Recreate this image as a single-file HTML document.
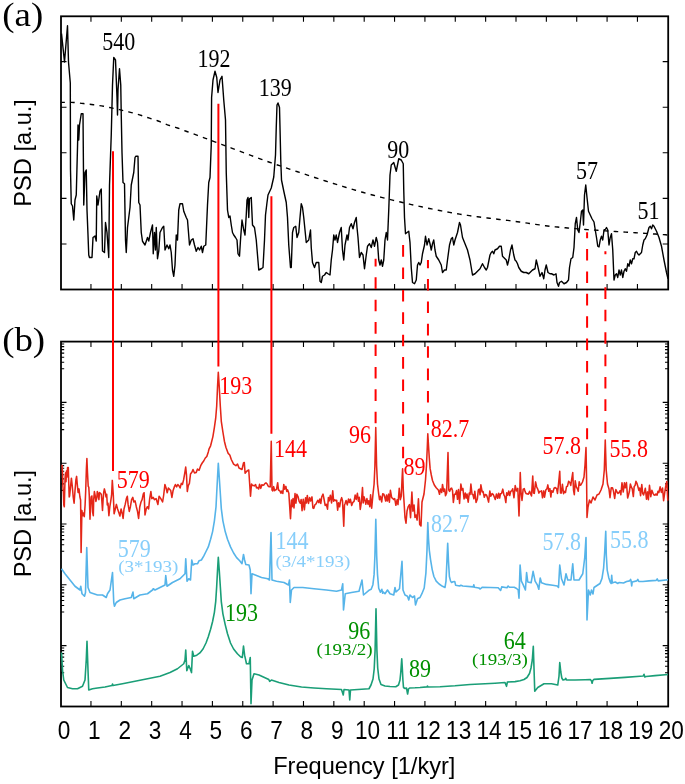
<!DOCTYPE html>
<html><head><meta charset="utf-8"><title>PSD figure</title>
<style>html,body{margin:0;padding:0;background:#fff;} svg{display:block;will-change:transform;}</style>
</head><body>
<svg width="685" height="784" viewBox="0 0 685 784"><rect x="61.0" y="16.3" width="607.2" height="273.2" fill="none" stroke="#000" stroke-width="1.8"/>
<rect x="61.0" y="341.6" width="607.2" height="364.9" fill="none" stroke="#000" stroke-width="1.8"/>
<path d="M90.96 16.3v5.5M90.96 289.5v-5.5M90.96 341.6v5.5M90.96 706.5v-5.5M121.32 16.3v5.5M121.32 289.5v-5.5M121.32 341.6v5.5M121.32 706.5v-5.5M151.68 16.3v5.5M151.68 289.5v-5.5M151.68 341.6v5.5M151.68 706.5v-5.5M182.04 16.3v5.5M182.04 289.5v-5.5M182.04 341.6v5.5M182.04 706.5v-5.5M212.40 16.3v5.5M212.40 289.5v-5.5M212.40 341.6v5.5M212.40 706.5v-5.5M242.76 16.3v5.5M242.76 289.5v-5.5M242.76 341.6v5.5M242.76 706.5v-5.5M273.12 16.3v5.5M273.12 289.5v-5.5M273.12 341.6v5.5M273.12 706.5v-5.5M303.48 16.3v5.5M303.48 289.5v-5.5M303.48 341.6v5.5M303.48 706.5v-5.5M333.84 16.3v5.5M333.84 289.5v-5.5M333.84 341.6v5.5M333.84 706.5v-5.5M364.20 16.3v5.5M364.20 289.5v-5.5M364.20 341.6v5.5M364.20 706.5v-5.5M394.56 16.3v5.5M394.56 289.5v-5.5M394.56 341.6v5.5M394.56 706.5v-5.5M424.92 16.3v5.5M424.92 289.5v-5.5M424.92 341.6v5.5M424.92 706.5v-5.5M455.28 16.3v5.5M455.28 289.5v-5.5M455.28 341.6v5.5M455.28 706.5v-5.5M485.64 16.3v5.5M485.64 289.5v-5.5M485.64 341.6v5.5M485.64 706.5v-5.5M516.00 16.3v5.5M516.00 289.5v-5.5M516.00 341.6v5.5M516.00 706.5v-5.5M546.36 16.3v5.5M546.36 289.5v-5.5M546.36 341.6v5.5M546.36 706.5v-5.5M576.72 16.3v5.5M576.72 289.5v-5.5M576.72 341.6v5.5M576.72 706.5v-5.5M607.08 16.3v5.5M607.08 289.5v-5.5M607.08 341.6v5.5M607.08 706.5v-5.5M637.44 16.3v5.5M637.44 289.5v-5.5M637.44 341.6v5.5M637.44 706.5v-5.5M61.0 61.6h5.5M668.2 61.6h-5.5M61.0 107.2h5.5M668.2 107.2h-5.5M61.0 152.8h5.5M668.2 152.8h-5.5M61.0 198.4h5.5M668.2 198.4h-5.5M61.0 244.0h5.5M668.2 244.0h-5.5M61.0 343.98h3.2M668.2 343.98h-3.2M61.0 346.64h3.2M668.2 346.64h-3.2M61.0 349.65h3.2M668.2 349.65h-3.2M61.0 353.14h3.2M668.2 353.14h-3.2M61.0 357.25h3.2M668.2 357.25h-3.2M61.0 362.29h3.2M668.2 362.29h-3.2M61.0 368.79h3.2M668.2 368.79h-3.2M61.0 402.40h5.5M668.2 402.40h-5.5M61.0 404.78h3.2M668.2 404.78h-3.2M61.0 407.44h3.2M668.2 407.44h-3.2M61.0 410.45h3.2M668.2 410.45h-3.2M61.0 413.94h3.2M668.2 413.94h-3.2M61.0 418.05h3.2M668.2 418.05h-3.2M61.0 423.09h3.2M668.2 423.09h-3.2M61.0 429.59h3.2M668.2 429.59h-3.2M61.0 463.20h5.5M668.2 463.20h-5.5M61.0 465.58h3.2M668.2 465.58h-3.2M61.0 468.24h3.2M668.2 468.24h-3.2M61.0 471.25h3.2M668.2 471.25h-3.2M61.0 474.74h3.2M668.2 474.74h-3.2M61.0 478.85h3.2M668.2 478.85h-3.2M61.0 483.89h3.2M668.2 483.89h-3.2M61.0 490.39h3.2M668.2 490.39h-3.2M61.0 524.00h5.5M668.2 524.00h-5.5M61.0 526.38h3.2M668.2 526.38h-3.2M61.0 529.04h3.2M668.2 529.04h-3.2M61.0 532.05h3.2M668.2 532.05h-3.2M61.0 535.54h3.2M668.2 535.54h-3.2M61.0 539.65h3.2M668.2 539.65h-3.2M61.0 544.69h3.2M668.2 544.69h-3.2M61.0 551.19h3.2M668.2 551.19h-3.2M61.0 584.80h5.5M668.2 584.80h-5.5M61.0 587.18h3.2M668.2 587.18h-3.2M61.0 589.84h3.2M668.2 589.84h-3.2M61.0 592.85h3.2M668.2 592.85h-3.2M61.0 596.34h3.2M668.2 596.34h-3.2M61.0 600.45h3.2M668.2 600.45h-3.2M61.0 605.49h3.2M668.2 605.49h-3.2M61.0 611.99h3.2M668.2 611.99h-3.2M61.0 645.60h5.5M668.2 645.60h-5.5M61.0 647.98h3.2M668.2 647.98h-3.2M61.0 650.64h3.2M668.2 650.64h-3.2M61.0 653.65h3.2M668.2 653.65h-3.2M61.0 657.14h3.2M668.2 657.14h-3.2M61.0 661.25h3.2M668.2 661.25h-3.2M61.0 666.29h3.2M668.2 666.29h-3.2M61.0 672.79h3.2M668.2 672.79h-3.2" stroke="#000" stroke-width="1.1" fill="none"/>
<path d="M61.50 33.60L64.50 62.00L67.50 25.70L68.50 62.00L70.30 83.00L70.50 170.00L71.25 203.75L72.50 206.00L73.75 220.00L75.00 200.00L76.25 195.00L77.50 147.50L78.00 125.00L78.75 140.00L79.50 125.00L81.25 113.75L83.00 113.75L83.75 205.00L85.00 172.50L86.25 170.00L87.00 210.00L88.00 235.00L88.75 255.00L89.50 257.50L92.00 257.50L93.00 237.50L95.00 236.00L96.25 241.00L96.75 196.00L98.00 205.00L100.00 191.00L101.25 189.00L102.50 251.00L104.50 252.50L105.50 222.50L107.00 232.50L108.75 257.50L109.50 185.00L111.25 135.00L112.50 85.00L113.75 57.50L115.50 60.00L117.00 97.50L117.50 115.00L118.00 90.00L119.50 68.75L120.75 85.00L121.25 115.00L122.00 152.50L123.00 182.50L124.50 183.75L125.50 240.00L126.25 252.50L127.50 227.50L130.00 207.50L131.25 185.00L133.75 172.50L135.00 157.50L135.75 156.25L138.00 156.25L138.75 202.50L140.00 205.00L141.25 232.50L142.50 241.25L145.00 245.00L147.50 237.50L148.75 241.00L150.50 232.50L152.50 225.00L153.25 253.75L154.50 232.50L155.50 250.00L156.25 227.50L157.50 258.75L158.75 251.25L160.00 232.50L162.50 227.50L163.75 226.25L165.00 250.00L167.00 245.00L168.75 248.75L170.00 245.00L171.25 252.50L172.50 270.00L173.75 276.25L175.00 265.00L176.25 235.00L177.50 240.00L178.75 210.00L180.00 203.75L182.50 203.75L183.75 211.25L186.25 217.50L187.50 220.00L189.50 245.00L191.25 240.00L193.00 238.75L194.50 245.00L196.25 251.25L198.00 247.50L199.50 250.00L201.25 246.25L202.50 252.50L203.75 246.25L205.75 245.00L207.50 205.00L208.75 182.50L210.00 177.50L211.25 145.00L211.60 97.50L213.00 80.00L215.00 71.25L216.75 77.50L218.00 92.50L220.00 80.00L222.00 76.25L223.75 100.00L225.50 120.00L226.25 172.50L227.50 210.00L228.75 217.50L230.00 216.00L231.25 225.00L232.50 232.50L233.75 235.00L235.50 237.50L237.00 240.00L238.00 253.75L239.50 256.25L240.50 240.00L242.00 220.00L243.75 230.00L245.00 235.00L246.25 215.00L247.00 200.00L248.00 197.50L248.75 217.50L249.50 198.75L251.25 197.50L252.50 225.00L254.50 227.50L256.25 240.00L257.50 255.00L258.75 270.00L261.25 268.75L263.00 267.50L264.50 240.00L265.50 215.00L267.00 202.50L268.00 195.00L271.25 188.00L273.75 177.00L275.50 155.00L276.25 127.50L277.00 105.00L278.00 103.00L279.50 107.50L280.00 127.50L280.75 160.00L281.50 180.00L283.75 191.00L286.25 202.50L287.50 217.50L288.75 245.00L290.50 267.50L291.25 267.50L292.50 232.50L293.75 227.50L295.75 226.25L297.00 237.50L298.75 232.50L300.00 217.50L301.25 203.75L302.50 207.50L303.75 217.50L305.00 230.00L306.25 242.50L308.75 240.00L310.50 230.00L311.25 247.50L312.50 262.50L314.50 267.50L316.25 262.50L318.75 262.50L320.00 281.25L321.25 282.50L322.50 276.25L324.50 275.00L326.25 272.50L328.00 273.75L330.00 275.00L331.25 260.00L332.50 250.00L333.75 235.00L335.00 240.00L336.25 235.00L337.50 242.50L339.50 232.50L341.25 227.50L342.50 250.00L343.75 260.00L345.00 245.00L347.00 235.00L348.00 240.00L349.50 227.50L351.25 223.75L353.00 228.75L354.50 222.50L356.25 217.50L357.00 227.50L358.00 237.50L359.50 257.50L361.25 252.50L363.00 255.00L364.50 268.75L366.25 255.00L367.50 246.25L369.50 243.75L371.25 247.50L373.00 240.00L374.50 246.25L376.25 237.50L377.50 242.50L378.75 260.00L380.00 265.00L381.25 260.00L382.50 266.25L383.75 260.00L385.00 240.00L386.25 232.50L387.50 240.00L388.75 210.00L390.00 175.00L391.25 165.00L393.75 162.50L396.25 171.25L398.75 158.75L401.25 160.00L403.25 163.75L403.75 190.00L404.50 217.50L405.50 233.75L407.00 232.50L408.75 231.25L410.00 242.50L411.25 267.50L412.50 282.50L414.50 283.75L416.25 280.00L417.50 265.00L418.75 262.50L420.00 265.00L421.25 262.50L422.50 253.75L424.50 245.00L425.50 236.25L427.00 245.00L428.75 238.75L430.00 243.75L431.25 250.00L432.50 243.75L433.75 240.00L435.00 250.00L436.25 256.25L438.75 260.00L441.25 265.00L442.50 272.50L444.50 270.00L446.25 270.00L447.50 260.00L449.50 245.00L451.25 238.75L452.50 237.50L453.75 245.00L455.00 240.00L457.50 232.50L459.50 222.50L460.50 225.00L462.50 237.50L465.00 243.75L467.50 250.00L470.00 260.00L472.50 275.00L475.00 273.75L477.50 271.25L480.00 268.75L482.50 263.75L484.50 267.50L486.25 270.00L487.50 267.50L490.00 255.00L491.25 252.50L492.50 251.25L493.75 253.75L495.00 250.00L497.50 248.75L499.50 246.25L501.25 246.25L502.50 256.25L503.75 257.50L505.00 258.75L506.25 260.00L507.50 265.00L508.75 260.00L510.50 250.00L512.00 245.00L513.75 255.00L515.00 260.00L516.25 261.25L517.50 263.75L518.75 267.50L521.25 271.25L523.75 272.50L526.25 272.50L528.75 273.75L530.00 272.50L532.50 270.00L535.00 268.75L536.25 260.00L537.50 265.00L540.00 276.25L542.00 272.50L543.75 278.75L545.00 270.00L546.25 265.00L548.00 272.50L550.00 273.75L551.50 273.75L554.00 275.00L556.00 273.75L557.00 282.50L558.50 286.25L559.50 282.50L561.50 281.25L564.00 283.75L566.50 282.50L568.50 280.00L569.50 267.50L571.00 258.75L572.75 257.50L574.00 247.50L575.25 223.75L576.50 217.50L577.75 230.00L579.00 232.50L580.25 222.50L581.50 211.25L582.75 210.00L583.50 225.00L584.50 195.00L585.75 185.00L587.00 197.50L588.50 211.25L590.25 215.00L592.00 218.75L594.00 222.00L595.25 230.00L596.50 237.50L597.75 246.25L599.00 247.00L600.25 240.00L601.50 236.25L602.75 240.00L604.00 230.00L605.25 229.50L606.50 227.50L607.75 230.00L609.00 245.00L610.25 237.50L611.50 233.75L612.75 250.00L614.00 280.00L615.25 275.00L616.50 273.75L617.75 277.50L619.00 270.00L620.25 275.00L621.50 270.00L622.75 277.50L624.00 271.25L625.25 268.75L626.50 271.25L627.75 263.75L629.00 266.25L630.25 260.00L631.50 263.75L632.75 258.75L634.00 258.75L635.25 252.50L636.50 251.25L637.75 253.75L639.00 255.00L641.50 252.50L642.75 245.00L644.00 240.00L645.25 238.75L647.00 235.00L649.00 227.50L650.25 226.25L651.50 228.75L652.75 225.00L654.00 226.25L656.50 231.25L659.00 237.50L661.50 246.25L664.00 260.00L666.50 272.50L668.00 278.75" stroke="#000" stroke-width="1.4" fill="none" stroke-linejoin="round"/>
<path d="M61.50 102.40L63.50 102.40L65.50 102.40L67.50 102.40L69.50 102.40L71.50 102.40L73.50 102.45L75.50 102.62L77.50 102.85L79.50 103.11L81.50 103.36L83.50 103.57L85.50 103.80L87.50 104.03L89.50 104.28L91.50 104.52L93.50 104.78L95.50 105.03L97.50 105.29L99.50 105.57L101.50 105.87L103.50 106.21L105.50 106.60L107.50 107.02L109.50 107.45L111.50 107.89L113.50 108.32L115.50 108.77L117.50 109.22L119.50 109.68L121.50 110.15L123.50 110.62L125.50 111.10L127.50 111.58L129.50 112.08L131.50 112.60L133.50 113.14L135.50 113.69L137.50 114.26L139.50 114.86L141.50 115.47L143.50 116.13L145.50 116.80L147.50 117.49L149.50 118.17L151.50 118.83L153.50 119.47L155.50 120.10L157.50 120.76L159.50 121.47L161.50 122.28L163.50 123.14L165.50 124.01L167.50 124.82L169.50 125.51L171.50 126.14L173.50 126.74L175.50 127.35L177.50 128.00L179.50 128.72L181.50 129.47L183.50 130.25L185.50 131.01L187.50 131.76L189.50 132.48L191.50 133.19L193.50 133.90L195.50 134.62L197.50 135.35L199.50 136.09L201.50 136.83L203.50 137.57L205.50 138.32L207.50 139.07L209.50 139.81L211.50 140.56L213.50 141.31L215.50 142.06L217.50 142.81L219.50 143.57L221.50 144.32L223.50 145.07L225.50 145.81L227.50 146.56L229.50 147.31L231.50 148.06L233.50 148.81L235.50 149.57L237.50 150.33L239.50 151.08L241.50 151.84L243.50 152.60L245.50 153.36L247.50 154.11L249.50 154.87L251.50 155.62L253.50 156.37L255.50 157.12L257.50 157.86L259.50 158.60L261.50 159.33L263.50 160.06L265.50 160.79L267.50 161.51L269.50 162.22L271.50 162.93L273.50 163.63L275.50 164.32L277.50 165.00L279.50 165.68L281.50 166.36L283.50 167.03L285.50 167.71L287.50 168.39L289.50 169.07L291.50 169.74L293.50 170.42L295.50 171.09L297.50 171.76L299.50 172.43L301.50 173.10L303.50 173.77L305.50 174.44L307.50 175.10L309.50 175.77L311.50 176.43L313.50 177.09L315.50 177.74L317.50 178.40L319.50 179.05L321.50 179.70L323.50 180.35L325.50 180.99L327.50 181.63L329.50 182.27L331.50 182.90L333.50 183.54L335.50 184.16L337.50 184.79L339.50 185.41L341.50 186.02L343.50 186.64L345.50 187.25L347.50 187.85L349.50 188.45L351.50 189.05L353.50 189.64L355.50 190.22L357.50 190.81L359.50 191.38L361.50 191.96L363.50 192.52L365.50 193.08L367.50 193.64L369.50 194.19L371.50 194.74L373.50 195.27L375.50 195.81L377.50 196.33L379.50 196.86L381.50 197.37L383.50 197.88L385.50 198.38L387.50 198.88L389.50 199.37L391.50 199.85L393.50 200.34L395.50 200.82L397.50 201.30L399.50 201.78L401.50 202.25L403.50 202.72L405.50 203.19L407.50 203.65L409.50 204.11L411.50 204.57L413.50 205.02L415.50 205.47L417.50 205.92L419.50 206.36L421.50 206.79L423.50 207.23L425.50 207.65L427.50 208.08L429.50 208.49L431.50 208.91L433.50 209.32L435.50 209.72L437.50 210.12L439.50 210.51L441.50 210.90L443.50 211.28L445.50 211.66L447.50 212.03L449.50 212.39L451.50 212.75L453.50 213.10L455.50 213.45L457.50 213.79L459.50 214.12L461.50 214.45L463.50 214.77L465.50 215.08L467.50 215.38L469.50 215.67L471.50 215.96L473.50 216.24L475.50 216.51L477.50 216.77L479.50 217.03L481.50 217.29L483.50 217.53L485.50 217.78L487.50 218.02L489.50 218.26L491.50 218.50L493.50 218.73L495.50 218.97L497.50 219.21L499.50 219.44L501.50 219.68L503.50 219.92L505.50 220.17L507.50 220.41L509.50 220.67L511.50 220.92L513.50 221.18L515.50 221.45L517.50 221.73L519.50 222.01L521.50 222.30L523.50 222.59L525.50 222.89L527.50 223.18L529.50 223.48L531.50 223.78L533.50 224.07L535.50 224.36L537.50 224.65L539.50 224.92L541.50 225.20L543.50 225.46L545.50 225.72L547.50 225.96L549.50 226.19L551.50 226.42L553.50 226.63L555.50 226.84L557.50 227.04L559.50 227.24L561.50 227.43L563.50 227.62L565.50 227.81L567.50 227.99L569.50 228.16L571.50 228.33L573.50 228.50L575.50 228.67L577.50 228.83L579.50 228.99L581.50 229.15L583.50 229.30L585.50 229.45L587.50 229.60L589.50 229.75L591.50 229.89L593.50 230.03L595.50 230.17L597.50 230.31L599.50 230.45L601.50 230.58L603.50 230.71L605.50 230.84L607.50 230.97L609.50 231.10L611.50 231.23L613.50 231.36L615.50 231.49L617.50 231.61L619.50 231.74L621.50 231.86L623.50 231.99L625.50 232.12L627.50 232.24L629.50 232.37L631.50 232.49L633.50 232.62L635.50 232.74L637.50 232.87L639.50 233.00L641.50 233.13L643.50 233.26L645.50 233.39L647.50 233.52L649.50 233.66L651.50 233.79L653.50 233.93L655.50 234.07L657.50 234.21L659.50 234.35L661.50 234.50L663.50 234.65L665.50 234.80L667.50 234.96" stroke="#000" stroke-width="1.4" fill="none" stroke-dasharray="4.6 5.25" stroke-dashoffset="1.25"/>
<path d="M62.00 464.80L62.50 472.90L62.90 486.30L63.40 492.50L63.80 505.00L64.30 506.80L64.70 490.70L65.10 477.30L65.60 472.90L66.00 481.80L66.50 471.10L66.90 477.30L67.60 467.50L68.30 467.50L68.70 481.80L69.20 497.00L69.60 496.00L70.50 487.10L71.40 478.20L72.30 486.30L73.20 497.00L74.10 503.20L75.00 490.70L75.90 480.00L76.60 476.40L77.20 483.60L78.10 492.50L79.00 488.90L79.90 497.00L80.60 500.00L81.10 552.40L81.90 510.40L82.60 515.70L83.40 513.00L84.30 516.60L85.10 505.00L85.70 490.70L86.40 468.40L86.90 458.60L87.50 472.90L88.20 486.30L88.80 487.10L89.30 496.00L90.00 519.30L90.60 505.00L91.20 497.00L91.90 496.00L92.60 512.10L93.30 515.70L93.70 499.60L94.40 491.60L95.10 495.20L95.90 501.40L96.80 497.90L97.30 491.60L98.20 494.30L98.90 499.60L99.50 492.50L100.40 493.40L101.30 494.30L101.90 501.40L102.50 510.40L103.10 499.60L103.70 492.50L104.40 488.90L105.30 492.50L106.00 497.00L106.70 494.30L107.30 505.00L108.00 503.20L108.90 515.70L109.80 506.80L110.70 501.40L111.60 495.20L112.30 480.40L113.30 495.00L114.10 513.70L115.30 509.00L116.40 504.40L117.60 509.00L118.80 512.60L119.90 516.00L121.10 509.00L122.30 513.70L123.10 518.40L124.00 509.00L125.20 504.40L126.40 498.60L127.30 496.20L128.10 504.40L129.30 511.40L130.40 506.70L131.60 499.70L132.80 497.40L133.90 502.00L135.10 500.90L136.30 506.70L137.50 511.40L138.60 518.40L139.80 506.70L141.00 502.00L142.10 499.70L143.30 493.90L144.10 492.70L145.00 514.90L146.20 509.00L147.40 506.70L148.60 509.00L149.70 498.60L150.90 491.50L151.80 498.60L153.20 497.40L154.40 499.70L156.10 498.60L157.90 504.40L159.10 496.20L160.80 498.60L162.60 502.00L163.70 495.00L164.90 484.50L166.10 488.00L167.20 492.70L168.40 488.00L169.60 489.20L170.70 490.40L171.90 497.40L173.10 490.40L174.30 486.90L175.40 484.50L176.60 486.90L177.80 484.50L178.90 485.70L180.10 488.00L181.30 483.40L182.40 484.50L183.60 479.90L184.80 472.90L185.70 467.00L186.50 475.20L187.30 491.50L188.30 485.70L189.40 483.40L190.50 474.00L192.00 472.00L193.00 469.50L194.50 473.00L196.10 472.60L197.50 469.00L199.10 470.30L200.70 465.70L202.20 463.00L203.70 461.00L205.30 458.00L206.80 456.50L208.30 451.90L209.10 448.80L210.60 445.80L212.90 436.60L214.40 427.40L215.70 418.20L216.70 406.00L217.50 387.60L218.30 372.30L219.30 387.60L220.30 406.00L221.30 421.30L222.90 432.00L224.40 441.20L225.90 447.30L228.20 453.40L229.80 455.00L231.30 459.50L233.60 464.10L235.90 465.70L237.50 464.00L239.00 468.00L240.50 468.70L242.00 469.50L243.50 463.00L244.30 462.50L245.10 473.30L247.00 471.00L248.75 470.00L250.50 496.25L251.50 484.00L252.50 485.36L253.55 485.50L254.35 485.87L255.63 484.62L256.48 487.86L257.60 487.49L258.65 488.99L259.58 484.24L260.79 488.37L261.84 484.72L262.92 485.41L263.81 484.97L264.85 483.63L265.95 482.89L267.16 484.00L268.02 485.93L268.95 486.73L270.21 486.85L271.25 441.25L272.00 490.00L272.80 490.95L273.69 486.65L274.60 490.66L275.49 489.91L276.52 489.46L277.68 482.66L278.47 490.01L279.78 490.74L280.93 493.28L281.74 490.95L282.83 493.47L283.79 484.44L284.67 489.18L285.89 486.40L286.75 491.49L287.57 489.89L288.83 493.26L290.50 518.75L291.50 500.00L292.20 506.75L293.04 498.51L293.98 507.94L295.02 493.57L295.93 503.22L296.85 494.31L298.13 496.83L299.15 501.40L300.33 503.24L301.15 499.47L302.06 510.65L303.24 499.17L304.38 509.84L305.57 497.82L306.44 503.02L307.30 495.46L308.50 503.47L309.69 497.62L310.67 501.06L311.98 496.88L312.89 507.99L313.71 508.40L314.83 504.89L315.88 504.19L316.99 501.97L317.80 500.27L318.88 502.76L319.84 498.93L320.81 503.44L321.76 496.72L323.03 494.09L323.86 498.25L325.15 505.37L326.31 504.25L327.52 509.18L328.38 497.57L329.20 500.87L330.36 495.24L331.55 502.96L332.75 490.87L333.61 501.18L334.66 499.77L335.77 500.64L336.68 500.27L337.65 510.16L338.59 502.79L339.60 506.75L340.74 500.17L341.66 497.65L342.50 500.67L343.75 526.25L344.50 505.00L345.20 503.29L346.07 500.56L347.27 504.90L348.53 499.02L349.47 502.47L350.44 499.32L351.69 505.51L352.87 502.34L354.06 501.34L355.15 495.12L356.23 499.42L357.39 493.31L358.43 501.22L359.28 497.30L360.26 509.51L361.37 502.05L362.50 487.50L363.20 503.00L364.00 496.79L364.86 499.62L365.86 504.22L366.91 498.57L367.97 504.13L368.76 500.71L369.79 506.66L370.60 494.76L371.67 508.13L372.68 497.45L373.00 494.00L374.10 484.00L374.90 466.00L375.75 427.50L376.60 466.00L377.50 484.00L378.70 494.00L379.50 499.68L380.44 496.26L381.68 501.92L382.70 493.79L383.87 494.16L384.70 496.99L385.68 501.08L386.50 494.99L387.41 500.97L388.58 494.15L389.39 502.23L390.41 490.34L391.66 497.64L392.66 498.35L393.64 499.51L394.73 498.69L395.87 505.29L397.14 499.76L397.99 504.57L399.23 488.26L400.33 499.62L401.31 496.09L402.00 480.00L402.60 468.75L403.30 490.00L405.00 517.50L406.00 523.19L407.00 511.30L408.10 506.84L409.46 504.57L410.56 517.66L411.90 491.97L412.90 511.10L414.06 504.94L414.95 517.54L415.99 514.98L417.10 520.08L418.43 498.81L419.69 524.44L421.00 526.00L422.00 502.00L424.00 494.00L425.50 480.00L426.50 465.00L427.30 447.00L427.80 433.75L428.60 447.00L429.30 458.00L430.10 468.40L431.30 475.00L432.50 480.50L434.30 485.00L436.20 487.80L438.50 490.20L439.50 494.31L440.50 488.97L441.70 492.43L442.51 484.44L443.67 491.47L444.65 488.94L445.52 495.83L446.62 492.94L448.00 452.50L448.80 490.00L449.60 491.33L450.80 488.54L451.60 488.14L452.51 490.46L453.36 502.45L454.45 494.32L455.43 494.27L456.52 490.61L457.51 499.33L458.50 489.50L459.58 503.52L460.87 484.14L462.00 490.10L462.90 488.54L464.08 498.89L465.30 493.02L466.15 498.10L467.04 494.11L468.19 502.17L469.25 493.09L470.07 494.50L470.89 484.00L472.03 494.26L472.97 494.74L473.91 498.76L474.82 491.23L476.04 502.41L477.34 499.05L478.28 490.05L479.23 489.17L480.07 494.79L480.88 484.77L482.14 491.96L483.07 491.52L484.32 497.32L485.31 494.56L486.51 494.94L487.39 497.61L488.58 502.09L489.83 490.95L490.84 496.28L492.10 493.56L493.19 494.34L494.18 496.77L495.27 499.54L496.43 493.94L497.66 498.23L498.64 493.16L499.64 497.98L500.47 493.80L501.53 493.49L502.78 489.15L503.89 494.89L504.76 496.29L505.84 502.57L506.72 492.76L507.68 495.18L508.79 491.04L509.74 495.51L510.73 491.35L511.76 490.75L512.68 488.70L513.97 497.77L515.21 485.57L516.51 490.97L517.80 488.33L519.00 516.00L519.70 495.00L520.25 472.50L521.00 492.00L522.00 500.38L523.17 489.12L524.29 488.61L525.09 491.58L526.12 493.65L527.05 493.66L528.35 494.15L529.65 491.31L530.52 493.80L531.50 495.99L532.75 476.00L533.50 493.00L534.30 493.36L535.58 481.90L536.69 486.99L537.87 489.39L538.86 493.09L539.70 491.40L540.60 491.57L541.56 490.79L542.52 497.84L543.75 490.89L544.54 497.17L545.78 490.00L546.95 488.67L547.85 484.89L548.77 491.28L549.91 488.59L550.83 497.03L551.64 490.66L552.94 492.18L554.04 488.25L555.30 487.52L556.60 488.51L557.47 493.42L558.57 483.55L559.75 471.25L560.50 493.00L561.30 493.07L562.42 484.26L563.56 493.71L564.62 491.42L565.48 492.55L566.50 486.66L567.45 486.25L568.61 481.37L569.91 482.48L570.75 485.40L572.75 472.50L573.50 490.00L574.30 494.72L575.25 480.88L576.27 486.83L577.31 488.60L578.24 491.16L579.18 481.79L580.15 485.27L581.02 484.75L582.50 482.00L584.00 477.00L585.00 465.00L586.00 447.50L586.60 480.00L587.00 517.50L588.00 507.00L589.50 500.00L591.00 503.00L593.00 497.00L595.00 500.00L597.00 495.00L599.00 494.00L601.00 490.00L603.00 484.00L604.30 470.00L605.25 440.00L606.20 470.00L607.50 484.00L609.00 489.00L610.00 497.69L611.23 487.86L612.48 487.83L613.37 490.64L614.67 498.40L615.86 489.48L617.16 492.26L618.02 493.42L619.02 492.70L620.07 490.70L620.87 494.78L621.97 482.72L623.25 492.02L624.42 482.78L625.25 487.75L626.44 482.55L627.64 498.03L628.43 495.24L629.45 491.32L630.38 483.96L631.35 487.24L632.22 488.70L633.33 496.57L634.18 486.55L635.06 485.59L635.94 481.32L636.83 483.08L637.87 486.53L638.85 490.34L639.69 487.94L640.57 495.63L641.81 484.46L642.71 493.35L643.53 494.95L644.51 491.88L645.34 488.26L646.49 499.26L647.54 491.90L648.39 499.68L649.48 485.23L650.78 496.71L651.87 490.32L653.03 493.30L654.13 494.99L655.11 495.18L655.90 493.97L657.06 495.18L658.00 491.29L658.88 492.53L660.11 486.79L661.39 492.39L662.54 488.11L663.61 500.68L664.68 492.88L665.65 486.69L666.81 481.52L667.82 500.61" stroke="#e42618" stroke-width="1.55" fill="none" stroke-linejoin="round"/>
<path d="M61.50 568.75L65.00 573.75L70.00 580.00L75.00 586.25L80.00 590.00L80.75 586.25L82.00 593.75L84.50 596.25L85.50 592.50L86.75 547.50L88.00 587.50L90.00 592.50L93.75 593.75L97.50 595.00L102.50 595.00L106.25 597.50L107.50 593.75L110.00 590.00L112.50 572.50L113.75 602.50L114.50 606.25L116.25 602.50L120.00 600.00L125.00 598.75L131.25 597.50L133.00 592.00L133.75 598.75L140.00 595.00L147.50 593.75L152.50 590.00L153.25 588.75L155.00 590.00L160.00 587.50L165.00 585.00L165.75 575.50L167.00 586.25L172.50 582.50L180.00 578.75L185.00 573.75L185.75 558.75L187.00 581.25L188.75 578.75L190.50 580.00L191.75 560.00L193.00 565.00L195.00 563.75L197.60 563.70L199.10 560.70L201.40 560.00L203.70 556.10L206.00 551.50L208.30 546.90L210.60 539.20L212.60 531.60L214.40 520.80L216.00 507.00L216.70 493.30L217.50 478.00L218.30 463.40L219.30 478.00L220.30 493.30L221.30 508.60L222.90 520.80L225.20 531.60L227.50 539.20L230.50 546.90L233.60 553.00L236.60 557.60L239.70 560.70L242.00 563.70L243.50 554.50L244.60 560.00L245.80 564.50L249.00 565.00L250.25 570.00L251.00 593.75L252.00 573.75L255.25 575.00L261.50 577.50L267.75 578.75L269.50 580.00L271.00 532.50L272.00 580.00L276.50 581.25L284.00 582.50L288.50 585.00L289.50 580.00L290.25 602.50L291.50 590.00L294.00 587.50L302.75 587.50L314.00 588.75L326.50 590.00L336.50 591.25L341.50 590.00L342.75 583.75L343.50 610.00L345.25 593.75L351.50 592.50L359.00 591.25L362.00 580.00L363.50 595.00L369.50 589.90L371.20 589.30L372.90 584.70L374.10 574.40L374.90 556.00L375.80 519.20L376.70 556.00L377.50 574.40L378.70 588.20L380.40 592.20L381.80 589.30L382.70 593.30L382.50 591.25L385.00 593.75L387.50 590.00L390.00 593.75L393.75 595.00L395.00 587.50L396.00 592.00L399.50 588.75L402.00 561.25L403.00 590.00L405.00 595.00L407.50 596.25L408.75 600.00L410.00 595.00L412.50 597.50L414.50 596.00L415.50 605.00L417.50 598.75L418.40 598.30L420.00 597.50L421.90 593.70L424.20 588.00L425.90 573.10L427.00 550.10L427.80 522.60L428.50 538.70L429.30 550.10L430.50 559.30L432.20 569.60L433.90 576.50L436.20 581.10L439.10 584.00L442.50 586.30L445.00 587.40L446.00 581.10L446.90 561.60L447.70 543.30L448.50 561.60L449.40 576.50L450.60 581.10L451.60 582.50L453.00 581.80L454.80 581.60L455.60 585.20L459.60 586.00L460.90 585.20L462.80 586.00L473.30 586.90L473.80 584.80L474.40 587.30L478.90 588.00L480.20 589.00L482.10 587.30L498.20 587.70L500.60 590.50L501.70 586.90L507.00 587.70L508.10 586.00L509.40 587.30L514.20 587.30L516.60 588.50L518.20 590.00L519.00 598.10L520.10 565.00L521.40 581.20L523.00 584.40L525.40 590.00L526.60 572.50L527.80 582.00L531.10 582.80L533.10 571.40L535.10 581.20L537.50 585.20L538.80 589.30L540.20 578.00L541.50 582.80L546.30 584.40L552.70 585.20L557.20 586.00L558.50 587.50L559.75 565.00L561.50 578.75L564.00 585.00L566.00 573.75L567.75 580.00L571.00 580.00L572.75 563.75L574.00 580.00L579.00 580.00L582.75 573.75L584.75 557.50L586.00 537.50L587.00 620.00L588.50 590.00L590.25 595.00L591.50 590.00L593.00 594.00L594.00 587.50L600.00 583.50L602.00 578.40L603.60 568.20L604.70 552.00L605.75 531.25L606.30 555.00L607.20 570.20L608.70 577.40L610.20 582.00L611.20 583.50L611.70 575.30L612.30 583.00L613.30 582.50L615.30 582.00L617.90 583.50L619.00 582.50L623.50 583.00L626.60 581.50L629.60 580.90L630.60 579.40L631.10 581.00L631.70 586.00L632.20 582.00L636.80 580.90L637.80 579.40L638.80 581.50L642.90 581.50L649.00 580.90L656.20 580.40L657.20 578.90L658.20 580.90L668.00 579.80" stroke="#56b4e9" stroke-width="1.6" fill="none" stroke-linejoin="round"/>
<path d="M61.50 652.50L62.50 670.00L63.75 680.00L67.50 687.50L72.50 688.75L77.50 688.75L82.50 686.25L85.00 680.00L86.25 660.00L87.00 641.25L88.00 670.00L88.75 690.00L92.50 688.75L97.50 688.00L105.00 687.00L112.00 685.50L112.50 684.00L113.00 685.50L122.50 683.75L135.00 681.25L147.50 678.75L160.00 676.25L170.00 672.50L177.50 668.75L183.75 663.75L185.00 660.00L185.75 650.00L186.80 670.60L188.80 665.50L190.30 669.00L191.50 672.60L192.50 651.25L193.75 656.25L196.80 655.20L199.90 652.90L203.00 649.00L206.00 643.00L208.30 636.80L210.60 629.20L212.60 621.50L214.40 612.30L215.70 601.60L216.70 586.30L217.50 571.00L218.30 557.20L219.30 571.00L220.30 586.30L221.30 601.60L222.90 613.80L225.20 624.60L227.50 633.80L230.50 643.00L233.60 649.00L237.40 653.70L240.50 656.70L242.30 657.50L243.50 646.00L244.60 655.20L246.50 663.75L249.00 663.75L250.25 657.50L251.00 703.75L252.00 680.00L254.00 673.75L259.00 675.00L268.80 679.50L269.70 681.40L271.40 680.10L279.00 682.50L289.00 685.00L301.50 687.00L314.00 688.00L326.50 688.75L341.50 689.50L343.25 695.00L344.00 689.50L349.00 690.00L349.75 700.00L350.50 690.00L369.00 688.75L371.00 685.00L373.00 679.00L374.20 669.00L375.10 650.00L376.00 608.75L376.90 650.00L377.70 668.00L379.00 679.00L381.00 684.50L385.00 686.00L390.00 686.50L395.80 686.70L398.50 685.00L400.00 680.00L400.80 672.00L401.30 665.00L401.75 658.75L402.30 668.00L402.90 680.00L403.50 687.50L405.00 688.50L406.50 688.00L407.60 694.00L408.50 689.00L409.60 688.00L415.00 687.80L420.00 687.50L427.00 686.90L427.40 686.00L428.00 687.00L440.00 686.70L455.00 685.80L470.00 684.50L495.00 683.20L505.00 682.50L506.50 686.30L507.40 682.00L515.00 681.60L520.00 680.80L524.00 679.50L527.00 677.50L529.50 673.50L531.00 668.00L532.30 660.00L533.30 646.25L534.75 691.25L537.75 687.50L544.00 683.75L551.50 683.75L557.75 685.00L559.00 676.25L559.75 662.50L560.80 672.00L561.80 678.00L563.00 680.00L565.00 679.50L565.80 678.30L566.50 680.00L575.00 680.00L585.00 679.80L590.50 679.60L591.50 681.00L592.10 683.30L592.80 680.50L594.00 679.40L610.00 678.40L625.00 677.40L640.00 676.30L643.20 676.00L644.00 674.30L644.80 677.00L646.00 676.50L655.00 675.60L668.00 674.50" stroke="#1a9e77" stroke-width="1.6" fill="none" stroke-linejoin="round"/>
<path d="M113 151.3V471M218.4 103.7V366.5M271.4 196.3V433.8" stroke="#ff0000" stroke-width="2" fill="none"/>
<path d="M375.6 258.7V423.3" stroke="#ff0000" stroke-width="2" fill="none" stroke-dasharray="11.6 10.8" stroke-dashoffset="3.8"/>
<path d="M403.1 245.1V458.3" stroke="#ff0000" stroke-width="2" fill="none" stroke-dasharray="11.6 10.8" stroke-dashoffset="0"/>
<path d="M427.95 260.1V425" stroke="#ff0000" stroke-width="2" fill="none" stroke-dasharray="11.6 10.8" stroke-dashoffset="3.5"/>
<path d="M587.1 232.2V439.3" stroke="#ff0000" stroke-width="2" fill="none" stroke-dasharray="11.6 10.8" stroke-dashoffset="5.6"/>
<path d="M605.4 251.3V433" stroke="#ff0000" stroke-width="2" fill="none" stroke-dasharray="11.6 10.8" stroke-dashoffset="8.75"/>
<text transform="matrix(1.0 0 0 1.13 102.35 50.3)" font-size="22" font-family='"Liberation Serif", serif' fill="#000">540</text>
<text transform="matrix(1.0 0 0 1.13 197.45 66.85)" font-size="22" font-family='"Liberation Serif", serif' fill="#000">192</text>
<text transform="matrix(1.0 0 0 1.13 258.65 95.5)" font-size="22" font-family='"Liberation Serif", serif' fill="#000">139</text>
<text transform="matrix(1.0 0 0 1.13 387.25 157.6)" font-size="22" font-family='"Liberation Serif", serif' fill="#000">90</text>
<text transform="matrix(1.0 0 0 1.13 575.9 179.4)" font-size="22" font-family='"Liberation Serif", serif' fill="#000">57</text>
<text transform="matrix(1.0 0 0 1.13 637.5 219.4)" font-size="22" font-family='"Liberation Serif", serif' fill="#000">51</text>
<text transform="matrix(1.19 0 0 1.09 2.25 25.7)" font-size="31" font-family='"Liberation Serif", serif' fill="#000">(a)</text>
<text transform="matrix(1.19 0 0 1.09 2.15 350.65)" font-size="31" font-family='"Liberation Serif", serif' fill="#000">(b)</text>
<text transform="matrix(1.0 0 0 1.13 116.75 487.6)" font-size="22" font-family='"Liberation Serif", serif' fill="#ff0000">579</text>
<text transform="matrix(1.0 0 0 1.13 219.35 393.9)" font-size="22" font-family='"Liberation Serif", serif' fill="#ff0000">193</text>
<text transform="matrix(1.0 0 0 1.13 274.1 456.9)" font-size="22" font-family='"Liberation Serif", serif' fill="#ff0000">144</text>
<text transform="matrix(1.0 0 0 1.13 349.0 443.25)" font-size="22" font-family='"Liberation Serif", serif' fill="#ff0000">96</text>
<text transform="matrix(1.0 0 0 1.13 403.5 474.75)" font-size="22" font-family='"Liberation Serif", serif' fill="#ff0000">89</text>
<text transform="matrix(1.0 0 0 1.13 430.65 436.6)" font-size="22" font-family='"Liberation Serif", serif' fill="#ff0000">82.7</text>
<text transform="matrix(1.0 0 0 1.13 542.4 453.5)" font-size="22" font-family='"Liberation Serif", serif' fill="#ff0000">57.8</text>
<text transform="matrix(1.0 0 0 1.13 609.5 457.25)" font-size="22" font-family='"Liberation Serif", serif' fill="#ff0000">55.8</text>
<text transform="matrix(1.0 0 0 1.13 117.8 556.55)" font-size="22" font-family='"Liberation Serif", serif' fill="#87cefa">579</text>
<text transform="matrix(1.0 0 0 0.93 118.15 571.95)" font-size="19" font-family='"Liberation Serif", serif' fill="#87cefa">(3*193)</text>
<text transform="matrix(1.0 0 0 1.13 275.6 549.1)" font-size="22" font-family='"Liberation Serif", serif' fill="#87cefa">144</text>
<text transform="matrix(1.0 0 0 0.93 275.5 567.1)" font-size="19" font-family='"Liberation Serif", serif' fill="#87cefa">(3/4*193)</text>
<text transform="matrix(1.0 0 0 1.13 431.1 532.25)" font-size="22" font-family='"Liberation Serif", serif' fill="#87cefa">82.7</text>
<text transform="matrix(1.0 0 0 1.13 542.4 549.75)" font-size="22" font-family='"Liberation Serif", serif' fill="#87cefa">57.8</text>
<text transform="matrix(1.0 0 0 1.13 610.0 547.6)" font-size="22" font-family='"Liberation Serif", serif' fill="#87cefa">55.8</text>
<text transform="matrix(1.0 0 0 1.13 224.9 621.0)" font-size="22" font-family='"Liberation Serif", serif' fill="#009000">193</text>
<text transform="matrix(1.0 0 0 1.13 348.25 638.5)" font-size="22" font-family='"Liberation Serif", serif' fill="#009000">96</text>
<text transform="matrix(1.0 0 0 0.93 316.6 654.6)" font-size="19" font-family='"Liberation Serif", serif' fill="#009000">(193/2)</text>
<text transform="matrix(1.0 0 0 1.13 409.1 676.9)" font-size="22" font-family='"Liberation Serif", serif' fill="#009000">89</text>
<text transform="matrix(1.0 0 0 1.13 503.8 649.4)" font-size="22" font-family='"Liberation Serif", serif' fill="#009000">64</text>
<text transform="matrix(1.0 0 0 0.93 472.0 665.3)" font-size="19" font-family='"Liberation Serif", serif' fill="#009000">(193/3)</text>
<text x="31" y="152.9" font-size="23.6" fill="#000" font-family='"Liberation Sans", sans-serif' text-anchor="middle" transform="rotate(-90 31 152.9)">PSD [a.u.]</text>
<text x="31" y="523.6" font-size="23.6" fill="#000" font-family='"Liberation Sans", sans-serif' text-anchor="middle" transform="rotate(-90 31 523.6)">PSD [a.u.]</text>
<text transform="matrix(1 0 0 1.14 64.00 738.7)" font-size="22.6" font-family='"Liberation Sans", sans-serif' text-anchor="middle">0</text>
<text transform="matrix(1 0 0 1.14 94.36 738.7)" font-size="22.6" font-family='"Liberation Sans", sans-serif' text-anchor="middle">1</text>
<text transform="matrix(1 0 0 1.14 124.72 738.7)" font-size="22.6" font-family='"Liberation Sans", sans-serif' text-anchor="middle">2</text>
<text transform="matrix(1 0 0 1.14 155.08 738.7)" font-size="22.6" font-family='"Liberation Sans", sans-serif' text-anchor="middle">3</text>
<text transform="matrix(1 0 0 1.14 185.44 738.7)" font-size="22.6" font-family='"Liberation Sans", sans-serif' text-anchor="middle">4</text>
<text transform="matrix(1 0 0 1.14 215.80 738.7)" font-size="22.6" font-family='"Liberation Sans", sans-serif' text-anchor="middle">5</text>
<text transform="matrix(1 0 0 1.14 246.16 738.7)" font-size="22.6" font-family='"Liberation Sans", sans-serif' text-anchor="middle">6</text>
<text transform="matrix(1 0 0 1.14 276.52 738.7)" font-size="22.6" font-family='"Liberation Sans", sans-serif' text-anchor="middle">7</text>
<text transform="matrix(1 0 0 1.14 306.88 738.7)" font-size="22.6" font-family='"Liberation Sans", sans-serif' text-anchor="middle">8</text>
<text transform="matrix(1 0 0 1.14 337.24 738.7)" font-size="22.6" font-family='"Liberation Sans", sans-serif' text-anchor="middle">9</text>
<text transform="matrix(1 0 0 1.14 367.60 738.7)" font-size="22.6" font-family='"Liberation Sans", sans-serif' text-anchor="middle">10</text>
<text transform="matrix(1 0 0 1.14 397.96 738.7)" font-size="22.6" font-family='"Liberation Sans", sans-serif' text-anchor="middle">11</text>
<text transform="matrix(1 0 0 1.14 428.32 738.7)" font-size="22.6" font-family='"Liberation Sans", sans-serif' text-anchor="middle">12</text>
<text transform="matrix(1 0 0 1.14 458.68 738.7)" font-size="22.6" font-family='"Liberation Sans", sans-serif' text-anchor="middle">13</text>
<text transform="matrix(1 0 0 1.14 489.04 738.7)" font-size="22.6" font-family='"Liberation Sans", sans-serif' text-anchor="middle">14</text>
<text transform="matrix(1 0 0 1.14 519.40 738.7)" font-size="22.6" font-family='"Liberation Sans", sans-serif' text-anchor="middle">15</text>
<text transform="matrix(1 0 0 1.14 549.76 738.7)" font-size="22.6" font-family='"Liberation Sans", sans-serif' text-anchor="middle">16</text>
<text transform="matrix(1 0 0 1.14 580.12 738.7)" font-size="22.6" font-family='"Liberation Sans", sans-serif' text-anchor="middle">17</text>
<text transform="matrix(1 0 0 1.14 610.48 738.7)" font-size="22.6" font-family='"Liberation Sans", sans-serif' text-anchor="middle">18</text>
<text transform="matrix(1 0 0 1.14 640.84 738.7)" font-size="22.6" font-family='"Liberation Sans", sans-serif' text-anchor="middle">19</text>
<text transform="matrix(1 0 0 1.14 671.20 738.7)" font-size="22.6" font-family='"Liberation Sans", sans-serif' text-anchor="middle">20</text>
<text x="364.3" y="773.5" font-size="23.6" fill="#000" font-family='"Liberation Sans", sans-serif' text-anchor="middle" >Frequency [1/kyr]</text></svg>
</body></html>
